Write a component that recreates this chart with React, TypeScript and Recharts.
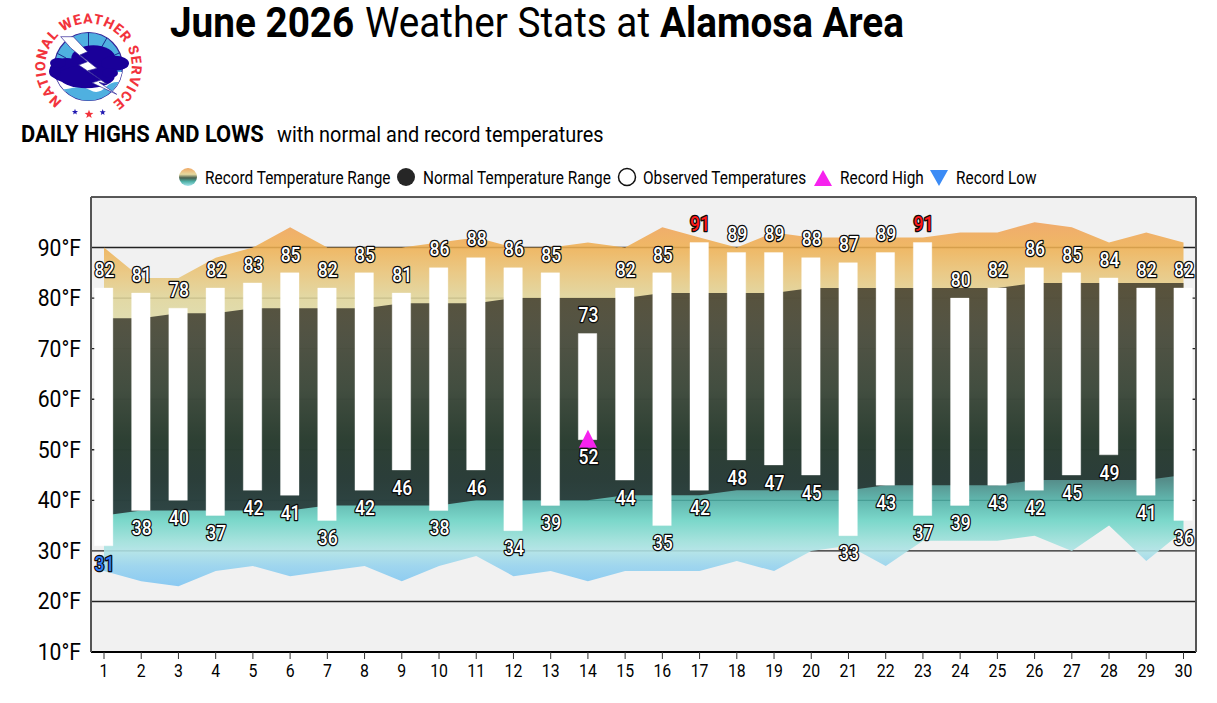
import {
  Area,
  Bar,
  CartesianGrid,
  ComposedChart,
  Line,
  XAxis,
  YAxis,
} from "recharts";

const days = Array.from({ length: 30 }, (_, i) => String(i + 1));
const obsHigh = [82, 81, 78, 82, 83, 85, 82, 85, 81, 86, 88, 86, 85, 73, 82, 85, 91, 89, 89, 88, 87, 89, 91, 80, 82, 86, 85, 84, 82, 82];
const obsLow = [31, 38, 40, 37, 42, 41, 36, 42, 46, 38, 46, 34, 39, 52, 44, 35, 42, 48, 47, 45, 33, 43, 37, 39, 43, 42, 45, 49, 41, 36];
const normalHigh = [76, 76, 77, 77, 78, 78, 78, 78, 79, 79, 79, 80, 80, 80, 80, 81, 81, 81, 81, 82, 82, 82, 82, 82, 82, 83, 83, 83, 83, 83];
const normalLow = [37, 38, 38, 38, 38, 38, 39, 39, 39, 39, 40, 40, 40, 40, 41, 41, 41, 42, 42, 42, 42, 43, 43, 43, 43, 44, 44, 44, 44, 45];
const recordHigh = [90, 84, 84, 88, 90, 94, 90, 90, 90, 91, 92, 90, 90, 91, 90, 94, 92, 90, 93, 92, 92, 92, 92, 93, 93, 95, 94, 91, 93, 91];
const recordLow = [26, 24, 23, 26, 27, 25, 26, 27, 24, 27, 29, 25, 26, 24, 26, 26, 26, 28, 26, 30, 31, 27, 32, 32, 32, 33, 30, 35, 28, 34];
const recordHighMarks = [null, null, null, null, null, null, null, null, null, null, null, null, null, 52, null, null, null, null, null, null, null, null, null, null, null, null, null, null, null, null];
const yTicks = [10, 20, 30, 40, 50, 60, 70, 80, 90];

const recordStops = [
  [95, "#f0a25a"],
  [90, "#efb052"],
  [85, "#e9c478"],
  [80, "#e0d59a"],
  [76, "#dedaa6"],
  [60, "#7fa08c"],
  [44, "#40807c"],
  [40, "#4dafa5"],
  [36, "#6bd4c5"],
  [32, "#9be0da"],
  [30, "#aee3e6"],
  [27, "#94d2ee"],
  [23, "#7cc4f2"],
] as const;
const normalStops = [
  [83, "#4a4431"],
  [72, "#434539"],
  [62, "#394336"],
  [52, "#263629"],
  [46, "#26352f"],
  [37, "#283738"],
] as const;

const chartData = days.map((day, i) => ({
  day,
  observed: [obsLow[i], obsHigh[i]],
  high: obsHigh[i],
  low: obsLow[i],
  normal: [normalLow[i], normalHigh[i]],
  record: [recordLow[i], recordHigh[i]],
  mark: recordHighMarks[i],
}));

const FONT = "Roboto, sans-serif";

function CondText({ x, y, size, weight = 400, sx = 0.86, anchor = "start", fill = "#000", stroke, sw, children }: any) {
  return (
    <text
      transform={`translate(${x} ${y}) scale(${sx} 1)`}
      fontFamily={FONT}
      fontSize={size}
      fontWeight={weight}
      textAnchor={anchor}
      fill={fill}
      stroke={stroke}
      strokeWidth={sw}
      strokeLinejoin="round"
      style={{ paintOrder: "stroke" }}
    >
      {children}
    </text>
  );
}

function tempLabel(placement: "high" | "low") {
  return (props: any) => {
    const { x, y, index } = props;
    const value = placement === "high" ? obsHigh[index] : obsLow[index];
    let fill = "#fff";
    if (placement === "high" && value === 91) fill = "#ff1a1a";
    if (placement === "low" && index === 0) fill = "#2f7df6";
    const dy = placement === "high" ? -11.3 : 24.7;
    return (
      <CondText x={x + 0.5} y={y + dy} size={19.5} sx={0.9} weight={500} anchor="middle" fill={fill} stroke="#0a0a0a" sw={2.6}>
        {value}
      </CondText>
    );
  };
}

function triangleDot(props: any) {
  const { cx, cy, payload, index } = props;
  if (payload.mark == null) return <g key={index} />;
  return (
    <path
      key={index}
      d={`M${cx} ${cy - 10} L${cx + 9} ${cy + 8} L${cx - 9} ${cy + 8} Z`}
      fill="#f622ee"
    />
  );
}

function starPath(cx: number, cy: number, r: number) {
  const pts: string[] = [];
  for (let i = 0; i < 10; i++) {
    const rad = i % 2 === 0 ? r : r * 0.42;
    const a = (Math.PI / 5) * i - Math.PI / 2;
    pts.push(`${cx + rad * Math.cos(a)} ${cy + rad * Math.sin(a)}`);
  }
  return `M${pts.join(" L")} Z`;
}

function Logo() {
  return (
    <g>
      <defs>
        <path id="logoRing" d="M62.4 101 A43.2 43.2 0 1 1 113.3 102" />
        <clipPath id="logoDisc">
          <circle cx="88.5" cy="66.5" r="34" />
        </clipPath>
      </defs>
      <text fontFamily={FONT} fontSize={14} fontWeight={800} fill="#f2333c">
        <textPath href="#logoRing" textLength={217} lengthAdjust="spacing">
          NATIONAL WEATHER SERVICE
        </textPath>
      </text>
      <circle cx="88.5" cy="66.5" r="34" fill="#4fb0e0" stroke="#33289a" strokeWidth="1.2" />
      <g clipPath="url(#logoDisc)">
        <rect x="50" y="72" width="78" height="20" fill="#ffffff" />
        <path d="M52 86 Q62 91 72 88 T90 90 T106 87 T126 84 L126 108 L52 108 Z" fill="#4fb0e0" />
        <path d="M88.5 32 L88.5 48 M69 36 L76 50 M108 36 L100 50 M126 50 L108 58 M51 50 L66 58" stroke="#1b2d8f" strokeWidth="1" />
      </g>
      <g fill="#1a0099">
        <ellipse cx="66.7" cy="70" rx="17" ry="12" />
        <ellipse cx="93.3" cy="58.3" rx="22" ry="13" />
        <ellipse cx="115" cy="63.3" rx="14" ry="7.5" />
        <ellipse cx="86.7" cy="76.7" rx="28" ry="11.5" />
        <ellipse cx="110" cy="73" rx="8" ry="5" />
        <ellipse cx="55" cy="71.7" rx="6" ry="6" />
        <ellipse cx="58" cy="63" rx="8" ry="5" />
      </g>
      <path
        d="M60.7 36.7 L73.3 36.7 L87.5 51.7 L80 55 L97 68.3 L88 70.7 L107 84.3 L99 82.3 L116.7 94.3 L92 82.8 L101 80 L78.7 65 L87.3 61.7 L71 48.3 Z"
        fill="#ffffff"
        stroke="#33289a"
        strokeWidth="0.7"
      />
      <path d={starPath(75, 112, 3.2)} fill="#2018b0" />
      <path d={starPath(89, 114.3, 4.6)} fill="#f2333c" />
      <path d={starPath(102.7, 112.3, 3.2)} fill="#2018b0" />
    </g>
  );
}

function Header() {
  return (
    <svg width={1217} height={197} style={{ position: "absolute", left: 0, top: 0 }}>
      <defs>
        <linearGradient id="legendRecord" x1="0" y1="0" x2="0" y2="1">
          <stop offset="0%" stopColor="#f0a864" />
          <stop offset="35%" stopColor="#e6d9a0" />
          <stop offset="55%" stopColor="#47604f" />
          <stop offset="75%" stopColor="#4fb0a6" />
          <stop offset="100%" stopColor="#a6e4ec" />
        </linearGradient>
      </defs>
      <Logo />
      <CondText x={170} y={36.5} size={43} sx={0.9} weight={700}>June 2026</CondText>
      <CondText x={365} y={36.5} size={43} sx={0.9}>Weather Stats at</CondText>
      <CondText x={660} y={36.5} size={43} sx={0.9} weight={700}>Alamosa Area</CondText>
      <CondText x={21} y={142} size={24} sx={0.912} weight={700}>DAILY HIGHS AND LOWS</CondText>
      <CondText x={277} y={142} size={22} sx={0.903}>with normal and record temperatures</CondText>

      <circle cx={188} cy={177} r={9} fill="url(#legendRecord)" />
      <CondText x={205} y={184} size={17.5} sx={0.879}>Record Temperature Range</CondText>
      <circle cx={406} cy={177} r={9} fill="#262626" />
      <CondText x={423} y={184} size={17.5} sx={0.879}>Normal Temperature Range</CondText>
      <circle cx={627} cy={177} r={8.5} fill="#fff" stroke="#111" strokeWidth={1.5} />
      <CondText x={643} y={184} size={17.5} sx={0.879}>Observed Temperatures</CondText>
      <path d="M823 170 L832 186 L814 186 Z" fill="#f622ee" />
      <CondText x={840} y={184} size={17.5} sx={0.879}>Record High</CondText>
      <path d="M939 186 L948 170 L930 170 Z" fill="#3b8bf5" />
      <CondText x={956} y={184} size={17.5} sx={0.879}>Record Low</CondText>
    </svg>
  );
}

export default function App() {
  return (
    <div style={{ position: "absolute", left: 0, top: 0, width: 1217, height: 703, background: "#fff", overflow: "hidden" }}>
      <Header />
      <ComposedChart
        width={1217}
        height={703}
        data={chartData}
        margin={{ top: 197, right: 0, bottom: 0, left: 0 }}
        style={{ position: "absolute", left: 0, top: 0 }}
      >
        <defs>
          <linearGradient id="recordFill" x1="0" y1="0" x2="0" y2="1">
            {recordStops.map(([t, c]) => (
              <stop key={t} offset={`${((95 - t) / 72) * 100}%`} stopColor={c} />
            ))}
          </linearGradient>
          <linearGradient id="normalFill" x1="0" y1="0" x2="0" y2="1">
            {normalStops.map(([t, c]) => (
              <stop key={t} offset={`${((83 - t) / 46) * 100}%`} stopColor={c} />
            ))}
          </linearGradient>
        </defs>
        <CartesianGrid vertical={false} fill="#f1f1f1" fillOpacity={1} stroke="#222" strokeWidth={1.4} />
        <XAxis
          dataKey="day"
          scale="point"
          padding={{ left: 13, right: 12.5 }}
          height={51}
          interval={0}
          stroke="#000"
          strokeWidth={2}
          tickSize={7}
          tickLine={{ stroke: "#333", strokeWidth: 1 }}
          tick={(p: any) => (
            <CondText x={p.x} y={p.y + 16} size={18} sx={0.88} anchor="middle">
              {p.payload.value}
            </CondText>
          )}
        />
        <XAxis xAxisId="top" orientation="top" dataKey="day" height={0} tick={false} tickLine={false} stroke="#333" strokeWidth={2} />
        <YAxis
          domain={[10, 100]}
          ticks={yTicks}
          width={91}
          interval={0}
          stroke="#555"
          strokeWidth={2}
          tickLine={false}
          tick={(p: any) => (
            <CondText x={81} y={p.y + 8} size={24} sx={0.88} anchor="end">
              {`${p.payload.value}°F`}
            </CondText>
          )}
        />
        <YAxis yAxisId="right" orientation="right" domain={[10, 100]} width={21} tick={false} tickLine={false} stroke="#555" strokeWidth={2} />
        <Area dataKey="record" stroke="none" fill="url(#recordFill)" fillOpacity={0.88} isAnimationActive={false} />
        <Area dataKey="normal" stroke="none" fill="url(#normalFill)" fillOpacity={0.9} isAnimationActive={false} />
        <Bar dataKey="observed" barSize={18.5} fill="#fff" stroke="rgba(255,255,255,0.35)" strokeWidth={1} isAnimationActive={false} />
        <Line dataKey="mark" stroke="none" dot={triangleDot} activeDot={false} connectNulls={false} isAnimationActive={false} />
        <Line dataKey="high" stroke="none" dot={false} activeDot={false} label={tempLabel("high")} isAnimationActive={false} />
        <Line dataKey="low" stroke="none" dot={false} activeDot={false} label={tempLabel("low")} isAnimationActive={false} />
      </ComposedChart>
    </div>
  );
}
